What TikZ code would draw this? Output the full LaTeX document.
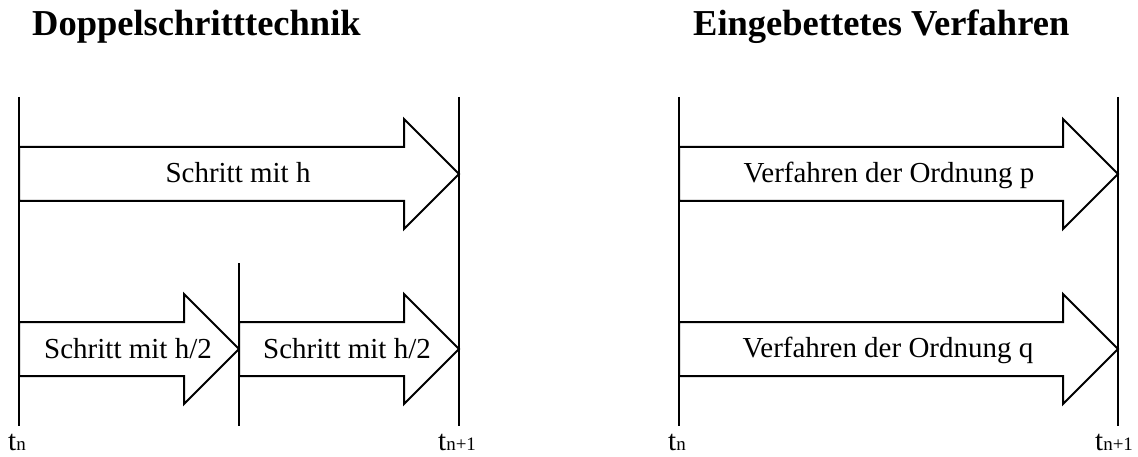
\documentclass[tikz,border=0pt]{standalone}
\usepackage{fontspec}
\setmainfont{Liberation Serif}
\begin{document}
\begin{tikzpicture}[x=1pt,y=-1pt,
  timeline/.style={line width=2.6pt},
  steparrow/.style={draw, line width=2pt, fill=white, line join=miter},
  steplabel/.style={inner sep=0pt, anchor=base, font=\fontsize{29}{29}\selectfont},
  heading/.style={inner sep=0pt, anchor=base west, font=\fontsize{36.5}{36.5}\selectfont\bfseries},
  timelabel/.style={inner sep=0pt, anchor=base west}]
\useasboundingbox (0,0) rectangle (1138,457);

% block arrow from x=#1 to tip x=#2 on centre line y=#3
\newcommand\blockarrow[3]{%
  \path[steparrow] (#1,#3-27) -- ({#2-55},#3-27) -- ({#2-55},#3-55) -- (#2,#3)
    -- ({#2-55},#3+55) -- ({#2-55},#3+27) -- (#1,#3+27) -- cycle;}
\newcommand\tlabel[1]{{\fontsize{29}{29}\selectfont t}{\fontsize{19}{19}\selectfont #1}}

% headings
\node[heading] (h1) at (32,36) {Doppelschritttechnik};
\node[heading] (h2) at (693,36) {Eingebettetes Verfahren};

% time axes
\coordinate (a0) at (19,97);   \coordinate (a0b) at (19,426);
\coordinate (a1) at (459,97);  \coordinate (a1b) at (459,426);
\coordinate (am) at (239,263); \coordinate (amb) at (239,426);
\coordinate (b0) at (679,97);  \coordinate (b0b) at (679,426);
\coordinate (b1) at (1118,97); \coordinate (b1b) at (1118,426);
\foreach \p/\q in {a0/a0b,a1/a1b,am/amb,b0/b0b,b1/b1b}
  \draw[timeline] (\p) -- (\q);

% double step
\blockarrow{19}{459}{174}
\blockarrow{19}{239}{349}
\blockarrow{239}{459}{349}
\node[steplabel] (s1) at (238,183) {Schritt mit h};
\node[steplabel] (s2) at (128,358) {Schritt mit h/2};
\node[steplabel] (s3) at (347,358) {Schritt mit h/2};

% embedded method
\blockarrow{679}{1118}{174}
\blockarrow{679}{1118}{349}
\node[steplabel] (e1) at (889,183) {Verfahren der Ordnung p};
\node[steplabel] (e2) at (888,357) {Verfahren der Ordnung q};

% time labels
\node[timelabel] (t1) at (8,450) {\tlabel{n}};
\node[timelabel] (t2) at (438,450) {\tlabel{n+1}};
\node[timelabel] (t3) at (668,450) {\tlabel{n}};
\node[timelabel] (t4) at (1095,450) {\tlabel{n+1}};
\end{tikzpicture}
\end{document}
